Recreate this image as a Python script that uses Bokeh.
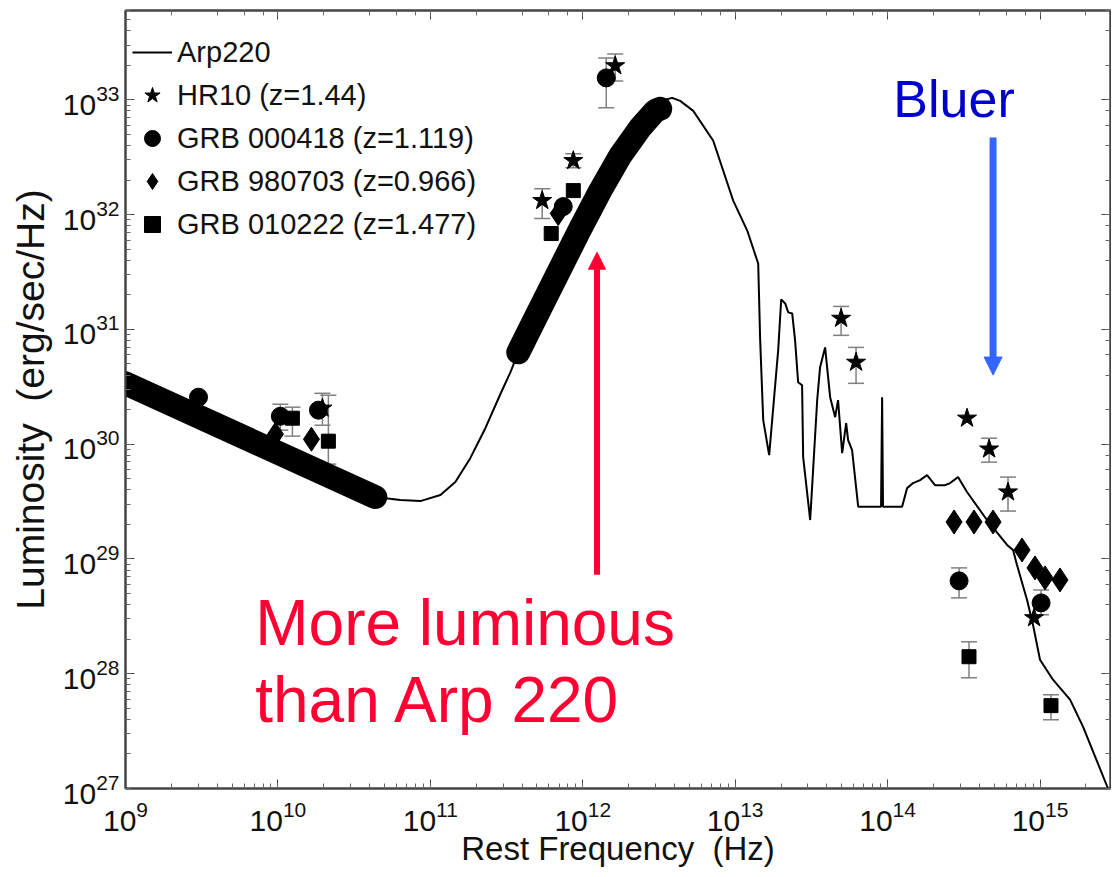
import numpy as np
from bokeh.plotting import figure
from bokeh.models import (ColumnDataSource, Whisker, TeeHead, Arrow, NormalHead,
                          Label, LogAxis, Legend, LegendItem, Range1d, CustomJSTickFormatter)
from bokeh.embed import file_html
from bokeh.resources import INLINE

# ---------------- data (log10 of frequency [Hz] and luminosity [erg/s/Hz]) -------------
arp220_lognu = [9.000, 10.639, 10.803, 10.934, 11.066, 11.164, 11.262, 11.361, 11.459, 11.525,
                11.577, 11.721, 11.852, 11.984, 12.115, 12.246, 12.377, 12.475, 12.541, 12.587,
                12.639, 12.725, 12.856, 12.987, 13.079, 13.151, 13.164, 13.184, 13.223, 13.282,
                13.302, 13.328, 13.348, 13.374, 13.393, 13.413, 13.439, 13.446, 13.492, 13.538,
                13.557, 13.590, 13.623, 13.656, 13.675, 13.702, 13.728, 13.741, 13.767, 13.807,
                13.957, 13.964, 13.970, 14.095, 14.128, 14.167, 14.213, 14.259, 14.311, 14.377,
                14.410, 14.462, 14.521, 14.652, 14.784, 14.823, 14.849, 14.915, 14.954, 15.000,
                15.085, 15.197, 15.282, 15.446]
arp220_logL = [30.530, 29.539, 29.513, 29.504, 29.557, 29.670, 29.878, 30.139, 30.435, 30.626,
               30.800, 31.183, 31.530, 31.878, 32.209, 32.513, 32.757, 32.904, 33.000, 33.017,
               32.991, 32.904, 32.643, 32.122, 31.861, 31.574, 30.904, 30.209, 29.904, 30.817,
               31.261, 31.226, 31.148, 31.139, 30.904, 30.539, 30.513, 29.887, 29.339, 30.383,
               30.670, 30.843, 30.409, 30.235, 30.383, 29.922, 30.183, 30.035, 29.948, 29.455,
               29.455, 30.409, 29.455, 29.455, 29.617, 29.661, 29.687, 29.730, 29.643, 29.643,
               29.661, 29.713, 29.583, 29.339, 29.122, 29.078, 28.948, 28.643, 28.426, 28.122,
               27.948, 27.774, 27.539, 27.000]

# thick highlighted parts of the Arp220 template
radio_band_lognu = [9.000, 10.639]
radio_band_logL = [30.530, 29.539]
fir_band_lognu = [11.577, 11.721, 11.852, 11.984, 12.115, 12.246, 12.377, 12.475, 12.508]
fir_band_logL = [30.800, 31.183, 31.530, 31.878, 32.209, 32.513, 32.757, 32.904, 32.922]

hr10_lognu = [10.292, 11.734, 11.938, 12.213, 13.695, 13.793, 14.521, 14.666, 14.790, 14.961]
hr10_logL = [30.313, 32.122, 32.470, 33.296, 31.096, 30.713, 30.226, 29.957, 29.583, 28.487]
hr10_logL_hi = [30.443, 32.226, 32.530, 33.400, 31.200, 30.843, None, 30.052, 29.713, None]
hr10_logL_lo = [30.165, 31.965, 32.409, 33.165, 30.948, 30.530, None, 29.843, 29.417, None]

grb000418_lognu = [9.479, 10.016, 10.266, 11.872, 12.154, 14.469, 15.007]
grb000418_logL = [30.409, 30.243, 30.296, 32.070, 33.191, 28.809, 28.617]
grb000418_logL_hi = [None, 30.348, None, None, 33.365, 28.922, 28.730]
grb000418_logL_lo = [None, 30.122, None, None, 32.930, 28.661, 28.513]

grb980703_lognu = [9.984, 10.220, 11.839, 14.436, 14.567, 14.692, 14.882, 14.967, 15.033, 15.131]
grb980703_logL = [30.087, 30.043, 32.009, 29.322, 29.322, 29.322, 29.078, 28.922, 28.835, 28.817]

grb010222_lognu = [10.095, 10.331, 11.793, 11.938, 14.534, 15.072]
grb010222_logL = [30.226, 30.026, 31.835, 32.209, 28.148, 27.722]
grb010222_logL_hi = [30.322, 30.426, None, None, 28.278, 27.817]
grb010222_logL_lo = [30.070, 29.826, None, None, 27.965, 27.600]

x_label = "Rest Frequency\u00a0 (Hz)"
y_label = "Luminosity\u00a0 (erg/sec/Hz)"
legend_labels = ["Arp220", "HR10 (z=1.44)", "GRB 000418 (z=1.119)",
                 "GRB 980703 (z=0.966)", "GRB 010222 (z=1.477)"]


def lin(a):
    return [10 ** v for v in a]


FONT = "Liberation Sans"
RED = "#ff0033"
GRAY = "#808080"

p = figure(width=1111, height=869, x_axis_type="log", y_axis_type="log",
           x_range=Range1d(1e9, 2.9e15), y_range=Range1d(1e27, 6e33),
           output_backend="svg", toolbar_location=None,
           min_border_left=125, min_border_right=1, min_border_top=10, min_border_bottom=80)
p.grid.visible = False
p.outline_line_color = "#444444"
p.outline_line_width = 2
p.background_fill_color = "white"
p.border_fill_color = "white"

for ax in (p.xaxis[0], p.yaxis[0]):
    ax.major_tick_in = 9
    ax.major_tick_out = 0
    ax.minor_tick_in = 5
    ax.minor_tick_out = 0
    ax.axis_line_color = "#444444"
    ax.axis_line_width = 2
    ax.major_tick_line_color = "#444444"
    ax.minor_tick_line_color = "#666666"
    ax.major_label_text_font = FONT
    ax.major_label_text_font_size = "30px"
    ax.major_label_text_color = "#111111"
    ax.axis_label_text_font = FONT
    ax.axis_label_text_font_style = "normal"
    ax.axis_label_text_color = "#111111"

p.xaxis[0].axis_label = x_label
p.xaxis[0].axis_label_text_font_size = "33px"
p.xaxis[0].axis_label_standoff = -4
p.xaxis[0].major_label_standoff = 12
p.yaxis[0].axis_label = y_label
p.yaxis[0].axis_label_text_font_size = "39px"
p.yaxis[0].axis_label_standoff = 8
p.yaxis[0].major_label_standoff = 6

# mirrored ticks on top and right
for side in ("above", "right"):
    ax = LogAxis(major_tick_in=9, major_tick_out=0, minor_tick_in=5, minor_tick_out=0,
                 axis_line_color="#444444", axis_line_width=2,
                 major_tick_line_color="#444444", minor_tick_line_color="#666666",
                 formatter=CustomJSTickFormatter(code="return ''"),
                 major_label_standoff=0)
    p.add_layout(ax, side)

# Arp220 template
arp = p.line(lin(arp220_lognu), lin(arp220_logL), line_color="black", line_width=2)
p.line(lin(radio_band_lognu), lin(radio_band_logL), line_color="black", line_width=24,
       line_cap="round")
p.line(lin(fir_band_lognu), lin(fir_band_logL), line_color="black", line_width=24,
       line_cap="round")


def whiskers(nu, hi, lo):
    xs, u, l = [], [], []
    for a, b, c in zip(nu, hi, lo):
        if b is not None:
            xs.append(10 ** a)
            u.append(10 ** b)
            l.append(10 ** c)
    src = ColumnDataSource(dict(base=xs, upper=u, lower=l))
    w = Whisker(source=src, base="base", upper="upper", lower="lower", dimension="height",
                line_color=GRAY, line_width=1.5,
                upper_head=TeeHead(size=16, line_color=GRAY, line_width=1.5),
                lower_head=TeeHead(size=16, line_color=GRAY, line_width=1.5))
    p.add_layout(w)


whiskers(hr10_lognu, hr10_logL_hi, hr10_logL_lo)
whiskers(grb000418_lognu, grb000418_logL_hi, grb000418_logL_lo)
whiskers(grb010222_lognu, grb010222_logL_hi, grb010222_logL_lo)

r_hr10 = p.scatter(lin(hr10_lognu), lin(hr10_logL), marker="star", size=20,
                   fill_color="black", line_color="black")
r_000418 = p.scatter(lin(grb000418_lognu), lin(grb000418_logL), marker="circle", size=18,
                     fill_color="black", line_color="black")
r_980703 = p.scatter(lin(grb980703_lognu), lin(grb980703_logL), marker="diamond", size=24,
                     fill_color="black", line_color="black")
r_010222 = p.scatter(lin(grb010222_lognu), lin(grb010222_logL), marker="square", size=14,
                     fill_color="black", line_color="black")

legend = Legend(items=[LegendItem(label=legend_labels[0], renderers=[arp]),
                       LegendItem(label=legend_labels[1], renderers=[r_hr10]),
                       LegendItem(label=legend_labels[2], renderers=[r_000418]),
                       LegendItem(label=legend_labels[3], renderers=[r_980703]),
                       LegendItem(label=legend_labels[4], renderers=[r_010222])],
                location=(7, 544), glyph_width=40, glyph_height=40, label_height=40,
                spacing=3, padding=0, margin=0, label_standoff=5,
                border_line_color=None, background_fill_alpha=0,
                label_text_font=FONT, label_text_font_size="29px",
                label_text_color="#111111")
p.add_layout(legend)

# annotations
p.add_layout(Arrow(x_start=1.24e12, y_start=7.3e28, x_end=1.24e12, y_end=4.7e31,
                   line_color=RED, line_width=6,
                   end=NormalHead(size=17, fill_color=RED, line_color=RED)))
p.add_layout(Arrow(x_start=4.92e14, y_start=4.7e32, x_end=4.92e14, y_end=4.0e30,
                   line_color="#3366ff", line_width=7,
                   end=NormalHead(size=18, fill_color="#3366ff", line_color="#3366ff")))
p.add_layout(Label(x=7.1e9, y=2.77e28, text="More luminous", text_color=RED,
                   text_font=FONT, text_font_size="64px", text_baseline="alphabetic"))
p.add_layout(Label(x=7.1e9, y=5.94e27, text="than Arp 220", text_color=RED,
                   text_font=FONT, text_font_size="64px", text_baseline="alphabetic"))
p.add_layout(Label(x=1.09e14, y=1.02e33, text="Bluer", text_color="#0000cc",
                   text_font=FONT, text_font_size="52px", text_baseline="alphabetic"))

open("out.html", "w").write(file_html(p, INLINE))
